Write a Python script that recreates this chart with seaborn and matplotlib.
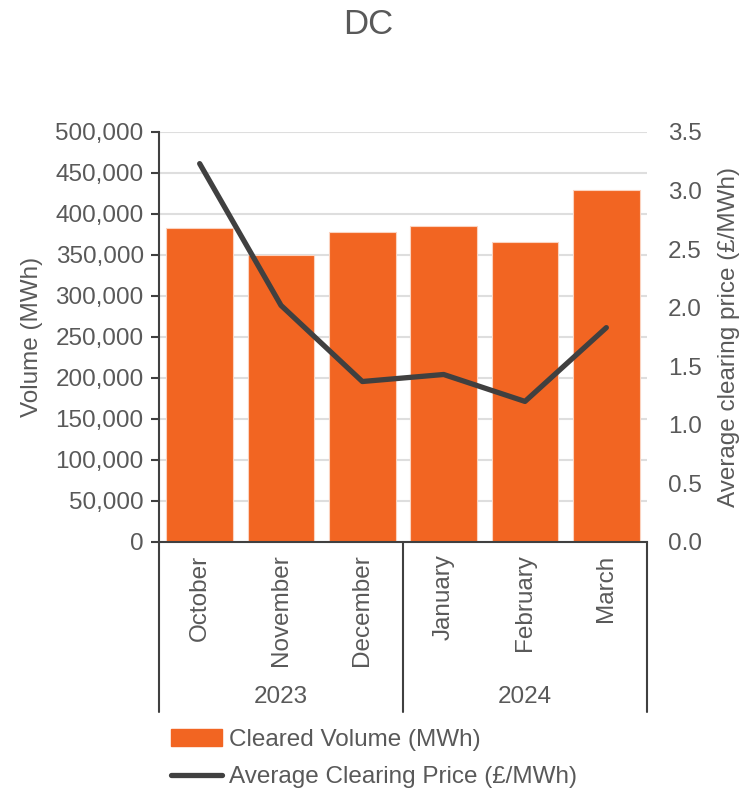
import matplotlib
matplotlib.use("Agg")
import matplotlib.pyplot as plt
import matplotlib.transforms as mtransforms
from matplotlib.patches import Patch
from matplotlib.lines import Line2D
import seaborn as sns
import pandas as pd

# Data
months = ["October", "November", "December", "January", "February", "March"]
years = ["2023", "2024"]
months_per_year = [3, 3]
volume = [383300, 350000, 378400, 385700, 366200, 429600]
price = [3.23, 2.02, 1.37, 1.43, 1.20, 1.83]

orange = "#F26522"
dark = "#404040"
grey_text = "#595959"

sns.set_theme(style="white")
plt.rcParams["font.family"] = ["Liberation Sans", "DejaVu Sans"]
plt.rcParams["text.color"] = grey_text
plt.rcParams["axes.labelcolor"] = grey_text
plt.rcParams["xtick.color"] = grey_text
plt.rcParams["ytick.color"] = grey_text

fs = 17.5

df = pd.DataFrame({"month": months, "volume": volume, "price": price})

fig = plt.figure(figsize=(7.41, 7.93), dpi=100)
ax = fig.add_axes([159 / 741, 1 - 542 / 793, (647 - 159) / 741, 410 / 793])

sns.barplot(data=df, x="month", y="volume", color=orange, width=0.82,
            edgecolor="#fbd3c0", linewidth=0.8, saturation=1, ax=ax, zorder=2)

ax.set_xlim(-0.5, 5.5)
ax.set_ylim(0, 500000)
ax.set_yticks(range(0, 500001, 50000))
ax.set_yticklabels([f"{v:,}" for v in range(0, 500001, 50000)], fontsize=fs)
ax.yaxis.grid(True, color="#dedede", linewidth=1.5, zorder=0)
ax.set_axisbelow(True)
ax.set_ylabel("Volume (MWh)", fontsize=fs, labelpad=9)
ax.set_xlabel("")

for side in ["top", "right"]:
    ax.spines[side].set_visible(False)
for side in ["left", "bottom"]:
    ax.spines[side].set_color(dark)
    ax.spines[side].set_linewidth(1.5)
ax.tick_params(axis="y", which="major", direction="out", length=6, width=1.5,
               color=dark, left=True, pad=5)
ax.tick_params(axis="x", length=0, pad=9)
ax.set_xticks(range(len(months)))
ax.set_xticklabels(months, rotation=90, va="top", ha="center", fontsize=fs)

# Secondary axis: price line
ax2 = ax.twinx()
sns.lineplot(data=df, x="month", y="price", color=dark, linewidth=3.8,
             sort=False, ax=ax2, zorder=3)
ax2.set_ylim(0, 3.5)
ax2.set_yticks([i * 0.5 for i in range(8)])
ax2.set_yticklabels([f"{i * 0.5:.1f}" for i in range(8)], fontsize=fs)
ax2.tick_params(axis="y", length=0, pad=15)
ax2.set_ylabel("Average clearing price (£/MWh)", fontsize=fs, labelpad=12)
for side in ["top", "right", "left", "bottom"]:
    ax2.spines[side].set_visible(False)

# Two-level category axis: separators and year labels
trans = mtransforms.blended_transform_factory(ax.transData, ax.transAxes)
depth = -(712 - 542) / 410
edges = [-0.5]
for n in months_per_year:
    edges.append(edges[-1] + n)
for xe in edges:
    ax.add_line(Line2D([xe, xe], [0, depth], transform=trans, color=dark,
                       linewidth=1.5, clip_on=False))
for i, yr in enumerate(years):
    mid = (edges[i] + edges[i + 1]) / 2
    ax.text(mid, -(697 - 542) / 410, yr, transform=trans, ha="center",
            va="center", fontsize=fs, color=grey_text)

fig.suptitle("DC", x=0.497, y=1 - 24 / 793, va="center", fontsize=25,
             color=grey_text)

handles = [Patch(facecolor=orange, edgecolor=orange),
           Line2D([0], [0], color=dark, linewidth=3.8, solid_capstyle="round")]
labels = ["Cleared Volume (MWh)", "Average Clearing Price (£/MWh)"]
fig.legend(handles, labels, loc="upper left",
           bbox_to_anchor=(154 / 741, 1 - 712 / 793), frameon=False,
           fontsize=fs, handlelength=2.1, handletextpad=0.3,
           labelspacing=0.62, borderpad=0.2)

fig.savefig("out.png", dpi=100)
